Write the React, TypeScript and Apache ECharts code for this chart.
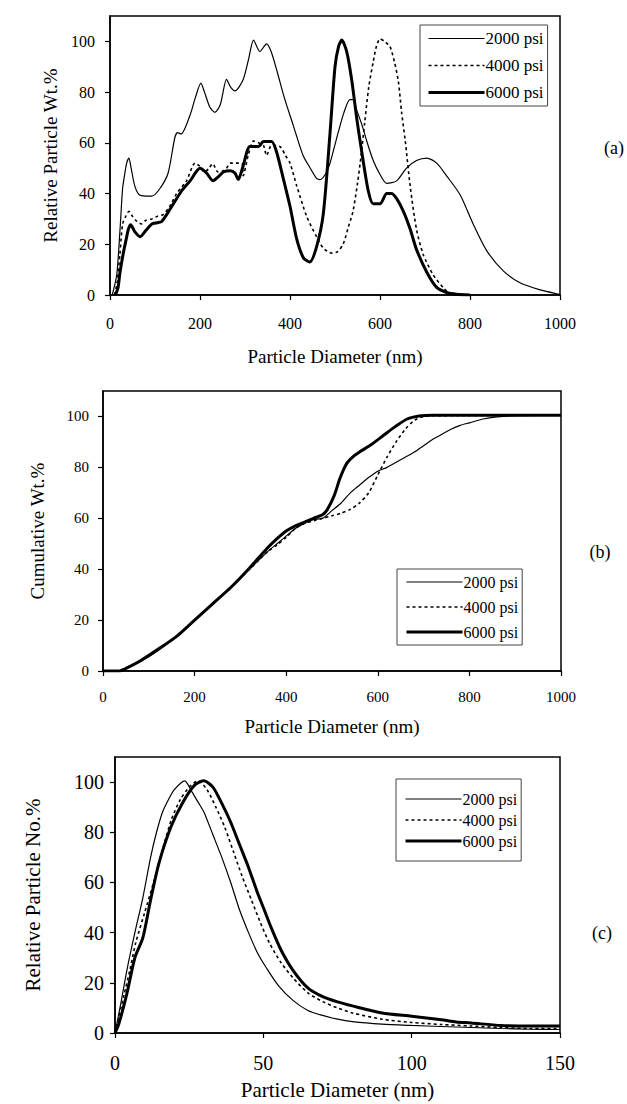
import React, { useEffect, useRef } from "react";
import * as echarts from "echarts";

// ---------- data ----------
const seriesNames = ["2000 psi", "4000 psi", "6000 psi"];
const xTicksAB = [0, 200, 400, 600, 800, 1000];
const xTicksC = [0, 50, 100, 150];
const yTicks = [0, 20, 40, 60, 80, 100];

// (a) Relative Particle Wt.%
const a2000: number[][] = [[5,0],[15,8],[22,25],[28,42],[33,48],[37,52],[42,54],[47,50],[55,43],[65,39.5],[80,39],[93,39],[111,42],[129,48],[144,62],[150,64],[158,63.5],[178,71],[190,78],[202,83.5],[210,80],[222,74],[233,72],[245,75],[259,85],[268,82],[278,80.5],[296,85],[308,93],[319,100.5],[333,96],[348,99],[358,96],[370,89],[387,78],[407,67],[429,55],[445,50],[459,46],[467,45.5],[480,48],[489,52],[507,64],[520,72],[533,77],[540,77],[548,73],[560,67],[570,61],[585,53],[600,47.5],[615,44],[637,45],[659,50],[681,53],[704,54],[726,52],[748,47],[778,39.5],[807,28],[837,17.5],[874,9.5],[911,4.8],[956,2],[993,0.5],[1000,0.3]];
const a4000: number[][] = [[10,0],[16,5],[22,16],[28,28],[35,31],[42,33],[50,31],[60,29],[70,28],[80,29.5],[93,30],[105,31],[118,31.7],[133,35],[148,40],[170,45],[189,52],[198,51],[211,48.5],[220,50],[228,51.8],[240,48.5],[252,49],[259,50],[267,52],[280,52],[293,52],[296,47],[307,55],[319,60.7],[330,60],[341,59],[348,55],[359,59],[378,58.5],[390,55],[400,52],[415,43],[437,31],[459,23],[474,18.5],[493,16.5],[505,17],[518,20],[530,27],[540,33],[550,44],[558,55],[566,68],[575,82],[585,92],[592,98],[600,101],[610,100],[622,98],[632,92],[641,84],[648,72],[656,61],[667,43],[681,26],[696,16],[718,8],[740,3],[756,0.5],[780,0]];
const a6000: number[][] = [[12,0],[18,3],[22,8.7],[29,16],[36,22],[41,26],[46,27.7],[55,25],[67,23],[80,25.5],[93,28],[105,28.5],[115,29],[133,33.7],[159,41],[178,45],[200,50],[215,48],[229,45],[240,46.5],[252,48.5],[267,49],[278,48],[285,45.5],[296,51],[311,58.5],[330,58.5],[341,60.5],[359,60.5],[370,56.5],[385,46],[400,35],[415,22],[430,14.6],[444,13],[459,19],[474,32],[489,64],[500,90],[508,98],[515,100.5],[526,96],[537,85],[548,70],[559,57],[574,41],[585,36],[600,36],[615,40],[625,40],[637,38],[652,33],[667,26],[681,18],[704,9],[726,3],[748,1],[770,0.3],[800,0]];

// (b) Cumulative Wt.%
const b2000: number[][] = [[0,0],[30,0],[50,1],[80,3.5],[120,8],[160,13.5],[200,20],[240,26.5],[280,33],[320,40],[360,47],[380,50],[400,53],[420,56],[440,58],[460,59.5],[480,60],[500,63],[520,66],[540,70],[560,73],[580,76],[600,78.5],[620,80],[640,82],[660,84],[680,86],[700,88.5],[720,91],[740,93],[760,95],[780,96.5],[800,97.5],[830,99],[860,99.8],[900,100.3],[1000,100.5]];
const b4000: number[][] = [[0,0],[30,0],[50,1.2],[80,4],[120,8.5],[160,13.5],[200,20],[240,26.5],[280,33],[320,40],[360,47],[380,49.5],[400,52.5],[420,56],[440,58],[460,59],[480,60],[500,61],[520,62],[540,63.5],[560,66],[580,70],[600,77],[620,84],[640,90],[660,95],[680,98.5],[700,100],[720,100.3],[1000,100.5]];
const b6000: number[][] = [[0,0],[35,0],[50,1],[80,3.8],[120,8.5],[160,13.5],[200,20],[240,26.5],[280,33],[320,40.5],[360,48.5],[380,52],[400,55],[420,57],[440,58.5],[460,60],[480,61.5],[490,63.5],[505,69],[516,75],[525,79],[534,82],[548,84.5],[560,86],[586,89],[612,92.5],[638,96],[664,99],[690,100.2],[720,100.5],[1000,100.5]];

// (c) Relative Particle No.%
const c2000: number[][] = [[0,0],[2,12],[4,25],[6.7,40],[9.4,54],[12,70],[14,80],[16,88],[18,93],[20,97],[23.5,100.5],[26,96],[28,92],[30,88],[33,79],[36,70],[39,60],[42,49],[45,40],[48,32],[51,26],[55,19],[60,13],[65,9],[70,7],[75,5.5],[80,4.5],[90,3.5],[100,3],[110,2.6],[120,2.2],[130,1.8],[140,1.5],[150,1.4]];
const c4000: number[][] = [[0,0],[3,15],[5,25],[7,36],[10,48],[13,60],[16,73],[19,85],[22,93],[25,98],[28,100.5],[31,97],[34,90],[37,82],[40,72],[43,62],[46,53],[49,44],[52,36],[56,28],[60,22],[65,16],[70,12.5],[75,10],[80,8],[90,5.5],[100,4.2],[110,3.4],[120,2.8],[130,2.2],[140,1.8],[150,1.8]];
const c6000: number[][] = [[0,0],[1.3,3.7],[4,15.7],[6.7,30],[9.4,38],[12,53],[14.8,67.6],[18.8,82],[22.9,92],[27,99],[30,100.5],[33,98],[36,91.5],[39,84],[42,75],[45,66],[48,56],[50,50],[53,41],[56,33],[60,25],[65,18],[70,14.5],[75,12.4],[80,10.8],[90,8],[100,6.7],[110,5.3],[115,4.4],[120,4],[130,3],[140,2.8],[150,2.8]];

const FONT = '"Liberation Serif", "Times New Roman", serif';

function lineStyleFor(i: number) {
  if (i === 0) return { color: "#000", width: 1.2, type: "solid" as any };
  if (i === 1) return { color: "#000", width: 1.6, type: [3, 3] as any };
  return { color: "#000", width: 3, type: "solid" as any };
}

export default function App() {
  const ref = useRef<HTMLDivElement>(null);
  useEffect(() => {
    document.body.style.margin = "0";
    const chart = echarts.init(ref.current!, undefined, { renderer: "svg" });
    const grids = [
      { left: 110, top: 16, width: 450, height: 279 },
      { left: 103, top: 391, width: 458, height: 280 },
      { left: 115, top: 757, width: 445, height: 276 },
    ];
    const tickFont = [16, 15, 20];
    const nameFont = [19, 19, 21];
    const xNameGap = [52, 46, 46];
    const yNameGap = [50, 56, 72];
    const yNames = ["Relative Particle Wt.%", "Cumulative Wt.%", "Relative Particle No.%"];
    const xLabelMargin = [20, 18, 20];
    const yLabelMargin = [15, 14, 11];

    const axisCommon = {
      axisLine: { show: true, lineStyle: { color: "#000", width: 1.5 } },
      axisTick: { show: true, inside: false, length: 5, lineStyle: { color: "#000", width: 1.2 } },
      splitLine: { show: false },
    };

    const xAxis = grids.map((_, i) => ({
      type: "value",
      gridIndex: i,
      min: 0,
      max: i === 2 ? 150 : 1000,
      interval: i === 2 ? 50 : 200,
      name: "Particle Diameter (nm)",
      nameLocation: "middle",
      nameGap: xNameGap[i],
      nameTextStyle: { color: "#000", fontFamily: FONT, fontSize: nameFont[i] },
      ...axisCommon,
      axisTick: { ...axisCommon.axisTick, customValues: i === 2 ? xTicksC : xTicksAB },
      axisLabel: {
        color: "#000",
        fontFamily: FONT,
        fontSize: tickFont[i],
        margin: xLabelMargin[i],
        customValues: i === 2 ? xTicksC : xTicksAB,
        formatter: (v: number) => String(v),
      },
    }));
    const yAxis = grids.map((_, i) => ({
      type: "value",
      gridIndex: i,
      min: 0,
      max: 110,
      interval: 10,
      name: yNames[i],
      nameLocation: "middle",
      nameGap: yNameGap[i],
      nameTextStyle: { color: "#000", fontFamily: FONT, fontSize: nameFont[i] },
      ...axisCommon,
      axisTick: { ...axisCommon.axisTick, customValues: yTicks },
      axisLabel: {
        color: "#000",
        fontFamily: FONT,
        fontSize: tickFont[i],
        margin: yLabelMargin[i],
        customValues: yTicks,
        formatter: (v: number) => String(v),
      },
    }));

    const datasets = [
      [a2000, a4000, a6000],
      [b2000, b4000, b6000],
      [c2000, c4000, c6000],
    ];
    const series: any[] = [];
    datasets.forEach((set, g) => {
      set.forEach((data, i) => {
        series.push({
          type: "line",
          name: seriesNames[i],
          xAxisIndex: g,
          yAxisIndex: g,
          data,
          symbol: "none",
          showSymbol: false,
          smooth: 0.25,
          lineStyle: lineStyleFor(i),
          itemStyle: { color: "#000" },
          z: 3 + i,
        });
      });
    });

    const legendBoxes = [
      { left: 420, top: 25, padding: [5, 4, 5, 7], itemGap: 10, fs: 17 },
      { left: 397, top: 569, padding: [5, 4, 5, 8], itemGap: 9, fs: 16 },
      { left: 396, top: 779, padding: [12, 4, 12, 8], itemGap: 5, fs: 16 },
    ];
    const legend = legendBoxes.map((b) => ({
      orient: "vertical",
      left: b.left,
      top: b.top,
      padding: b.padding,
      itemGap: b.itemGap,
      itemWidth: 56,
      itemHeight: 14,
      backgroundColor: "#fff",
      borderColor: "#444",
      borderWidth: 1,
      data: seriesNames.map((n, i) => ({
        name: n,
        lineStyle: lineStyleFor(i),
        itemStyle: { opacity: 0, borderWidth: 0 },
      })),
      itemStyle: { opacity: 0, borderWidth: 0 },
      textStyle: { color: "#000", fontFamily: FONT, fontSize: b.fs, padding: [0, 0, 0, -4] },
    }));

    const panelLabels = [
      { text: "(a)", x: 614, y: 148 },
      { text: "(b)", x: 600, y: 552 },
      { text: "(c)", x: 602, y: 933 },
    ];

    chart.setOption({
      animation: false,
      backgroundColor: "#fff",
      grid: grids.map((g) => ({ ...g, show: true, borderColor: "#000", borderWidth: 1.5, backgroundColor: "transparent" })),
      xAxis,
      yAxis,
      legend,
      series,
      graphic: panelLabels.map((p) => ({
        type: "text",
        x: p.x,
        y: p.y,
        style: {
          text: p.text,
          fill: "#000",
          font: `18px ${FONT}`,
          align: "center",
          verticalAlign: "middle",
        },
      })),
    });
    return () => chart.dispose();
  }, []);
  return <div ref={ref} style={{ position: "absolute", left: 0, top: 0, width: 627, height: 1104 }} />;
}
